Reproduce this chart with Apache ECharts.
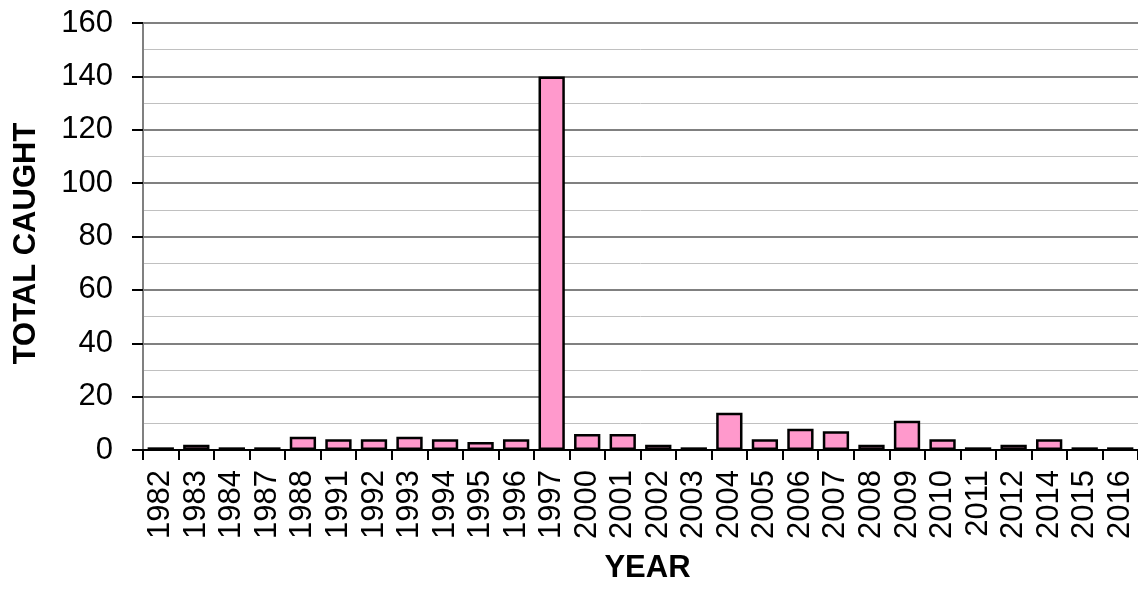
<!DOCTYPE html>
<html><head><meta charset="utf-8">
<script src="https://cdn.jsdelivr.net/npm/echarts@6/dist/echarts.min.js"></script>
<style>html,body{margin:0;padding:0;background:#fff}#c{width:1138px;height:589px}</style>
</head><body><div id="c"></div>
<script>
var years = ['1982','1983','1984','1987','1988','1991','1992','1993','1994','1995','1996','1997','2000','2001','2002','2003','2004','2005','2006','2007','2008','2009','2010','2011','2012','2014','2015','2016'];
var totalCaught = [1,2,1,1,5,4,4,5,4,3,4,140,6,6,2,1,14,4,8,7,2,11,4,1,2,4,1,1];
var yTicks = {min:0, max:160, interval:20};

var chart = echarts.init(document.getElementById('c'));
var F = 'Liberation Sans, Arial, sans-serif';
chart.setOption({
  animation:false,
  grid:{left:143, right:-1, top:23, bottom:137, containLabel:false},
  xAxis:{
    type:'category', data:years,
    name:'YEAR', nameLocation:'middle', nameGap:103,
    nameTextStyle:{fontFamily:F, fontSize:31, fontWeight:'bold', color:'#000', padding:[0,0,0,14]},
    axisLine:{lineStyle:{color:'#000', width:2}},
    axisTick:{show:true, length:10, lineStyle:{color:'#000', width:2}},
    axisLabel:{rotate:90, margin:20, fontFamily:F, fontSize:31, color:'#000', interval:0},
    splitLine:{show:false}
  },
  yAxis:{
    type:'value', min:yTicks.min, max:yTicks.max, interval:yTicks.interval,
    name:'TOTAL CAUGHT', nameLocation:'middle', nameGap:101,
    nameTextStyle:{fontFamily:F, fontSize:31, fontWeight:'bold', color:'#000', padding:[0,14,0,0]},
    axisLine:{show:true, lineStyle:{color:'#808080', width:2}},
    axisTick:{show:true, length:11, lineStyle:{color:'#000', width:2}},
    axisLabel:{margin:30, fontFamily:F, fontSize:31, color:'#000'},
    splitLine:{show:true, lineStyle:{color:'#808080', width:2}},
    minorTick:{show:false, splitNumber:2},
    minorSplitLine:{show:true, lineStyle:{color:'#c0c0c0', width:1}}
  },
  series:[{
    type:'bar', data:totalCaught, barCategoryGap:'26%',
    itemStyle:{color:'#FF99CC', borderColor:'#000', borderWidth:2.5}
  }]
});
</script></body></html>
